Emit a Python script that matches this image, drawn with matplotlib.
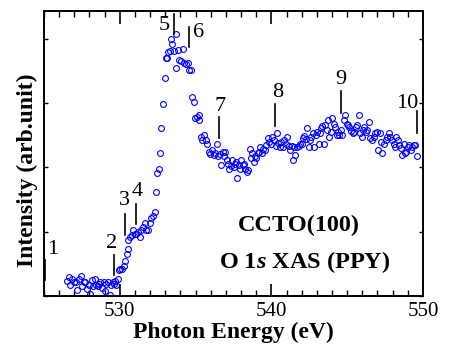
import matplotlib
matplotlib.use("Agg")
import matplotlib.pyplot as plt
from matplotlib.ticker import MultipleLocator

plt.rcParams['font.family'] = ['Liberation Serif', 'DejaVu Serif']
plt.rcParams['mathtext.fontset'] = 'custom'
plt.rcParams['mathtext.rm'] = 'Liberation Serif'
plt.rcParams['mathtext.it'] = 'Liberation Serif:italic:bold'
plt.rcParams['mathtext.bf'] = 'Liberation Serif:bold'

# O 1s XAS spectrum (photon energy in eV, intensity in arb. units)
energy = [
    526.54, 526.65, 526.74, 526.87, 526.96, 527.09, 527.18, 527.31, 527.44, 527.53,
    527.62, 527.73, 527.84, 527.95, 528.02, 528.15, 528.24, 528.35, 528.46, 528.55,
    528.63, 528.72, 528.83, 528.94, 529.03, 529.12, 529.23, 529.34, 529.43, 529.52,
    529.60, 529.69, 529.78, 529.85,
    529.93, 530.04, 530.13, 530.26, 530.35, 530.46, 530.57, 530.51, 530.66, 530.79,
    530.88, 530.99, 531.10, 531.21, 531.32, 531.43, 531.54, 531.65, 531.76, 531.87,
    531.98, 532.09, 532.20, 532.31, 532.38, 532.47, 532.56, 532.64, 532.73, 532.84,
    532.95, 533.02, 533.13, 533.19, 533.30, 533.35, 533.46, 533.57, 533.68, 533.74,
    533.85, 533.92, 534.03, 534.14, 534.23, 534.36, 534.47, 534.56, 534.69, 534.74,
    534.87, 534.96, 535.07, 535.20, 535.24, 535.35, 535.44, 535.55, 535.66, 535.77,
    535.86, 535.97, 536.10, 536.19, 536.28, 536.39, 536.50, 536.61, 536.70, 536.78,
    536.87, 536.96, 537.05, 537.14, 537.22, 537.31, 537.42, 537.51, 537.58, 537.67,
    537.75, 537.84, 537.93, 538.02, 538.11, 538.19, 538.28, 538.37, 538.48, 538.57,
    538.66, 538.74, 538.83, 538.92, 539.01, 539.10, 539.19, 539.27, 539.38, 539.47,
    539.56, 539.65, 539.76, 539.87, 539.96, 540.07, 540.18, 540.29, 540.37, 540.46,
    540.57, 540.66, 540.75, 540.84, 540.95, 541.04, 541.15, 541.23, 541.34, 541.41,
    541.50, 541.59, 541.70, 541.81, 541.92, 542.00, 542.09, 542.18, 542.29, 542.38,
    542.47, 542.56, 542.64, 542.73, 542.84, 542.93, 543.02, 543.11, 543.19, 543.28,
    543.37, 543.46, 543.57, 543.66, 543.74, 543.83, 543.92, 544.01, 544.10, 544.21,
    544.32, 544.41, 544.49, 544.58, 544.69, 544.76, 544.87, 544.98, 545.07, 545.15,
    545.26, 545.37, 545.46, 545.55, 545.64, 545.75, 545.86, 545.95, 546.04, 546.12,
    546.23, 546.32, 546.43, 546.52, 546.63, 546.74, 546.85, 546.96, 547.05, 547.14,
    547.22, 547.31, 547.42, 547.53, 547.62, 547.73, 547.84, 547.95, 548.06, 548.15,
    548.24, 548.33, 548.41, 548.52, 548.63, 548.72, 548.81, 548.90, 548.99, 549.10,
    549.19, 549.30, 549.38, 549.49, 549.60,
]
intensity = [
    0.23, 0.29, 0.17, 0.27, 0.21, 0.22, 0.09, 0.26, 0.31, 0.15,
    0.22, 0.21, 0.11, 0.17, 0.03, 0.25, 0.15, 0.26, 0.17, 0.15,
    0.19, 0.21, 0.13, 0.21, 0.07, 0.19, 0.21, 0.02, 0.17, 0.21,
    0.19, 0.24, 0.17, 0.26,
    0.41, 0.42, 0.42, 0.46, 0.54, 0.65, 0.73, 0.87, 0.91, 0.95,
    1.03, 0.97, 0.96, 1.00, 0.91, 1.03, 1.08, 1.13, 1.03, 1.03,
    1.14, 1.21, 1.24, 1.30, 1.61, 1.91, 1.97, 2.23, 2.62, 2.98,
    3.39, 3.70, 3.70, 3.80, 3.81, 3.99, 3.92, 3.81, 4.07, 3.54,
    3.82, 3.67, 3.65, 3.84, 3.63, 3.61, 3.62, 3.51, 3.51, 3.10,
    3.02, 2.76, 2.79, 2.81, 2.73, 2.48, 2.42, 2.50, 2.42, 2.37,
    2.24, 2.21, 2.27, 2.19, 2.22, 2.36, 2.17, 2.21, 2.04, 2.24,
    2.17, 2.24, 2.11, 2.06, 1.98, 2.02, 2.11, 2.01, 2.06, 2.09,
    1.84, 2.04, 1.98, 2.11, 2.04, 2.06, 1.98, 1.93, 1.96, 2.28,
    2.14, 2.22, 2.09, 2.17, 2.14, 2.22, 2.24, 2.32, 2.23, 2.28,
    2.27, 2.35, 2.45, 2.40, 2.37, 2.47, 2.42, 2.33, 2.54, 2.38,
    2.31, 2.40, 2.32, 2.42, 2.37, 2.48, 2.33, 2.27, 2.34, 2.12,
    2.32, 2.19, 2.32, 2.33, 2.36, 2.37, 2.45, 2.49, 2.44, 2.61,
    2.32, 2.42, 2.48, 2.53, 2.32, 2.50, 2.55, 2.37, 2.53, 2.61,
    2.64, 2.37, 2.66, 2.58, 2.74, 2.48, 2.55, 2.76, 2.68, 2.63,
    2.50, 2.55, 2.50, 2.58, 2.50, 2.74, 2.81, 2.68, 2.66, 2.63,
    2.56, 2.53, 2.55, 2.63, 2.66, 2.82, 2.53, 2.48, 2.58, 2.63,
    2.55, 2.58, 2.71, 2.45, 2.42, 2.48, 2.53, 2.55, 2.27, 2.54,
    2.40, 2.22, 2.37, 2.42, 2.48, 2.54, 2.48, 2.42, 2.37, 2.32,
    2.48, 2.42, 2.35, 2.30, 2.19, 2.37, 2.22, 2.24, 2.32, 2.35,
    2.27, 2.32, 2.35, 2.35, 2.17,
]

# peak markers: label, energy, line bottom, line top, text x, text y
peak_labels = ['1', '2', '3', '4', '5', '6', '7', '8', '9', '10']
peak_energy = [525.04, 529.60, 530.37, 531.10, 533.57, 534.58, 536.54, 540.26, 544.58, 549.60]
line_lo = [0.25, 0.33, 0.95, 1.12, 4.08, 3.87, 2.45, 2.64, 2.85, 2.53]
line_hi = [0.56, 0.64, 1.28, 1.43, 4.39, 4.19, 2.79, 2.98, 3.19, 2.87]
text_x = [525.6, 529.45, 530.3, 531.15, 532.95, 535.2, 536.6, 540.4, 544.58, 548.95]
text_y = [0.72, 0.82, 1.49, 1.62, 4.21, 4.09, 2.95, 3.17, 3.36, 2.99]

fig = plt.figure(figsize=(4.49, 3.47), dpi=100)
ax = fig.add_axes([0.098, 0.147, 0.844, 0.821])

ax.plot(energy, intensity, 'o', mfc='none', mec='#0000ff', ms=4.2, mew=0.8)

for lab, e, lo, hi, tx, ty in zip(peak_labels, peak_energy, line_lo, line_hi, text_x, text_y):
    ax.plot([e, e], [lo, hi], color='black', lw=1.2)
    ax.text(tx, ty, lab, ha='center', va='center', fontsize=16)

ax.text(541.8, 1.10, 'CCTO(100)', ha='center', va='center', fontsize=17.5, fontweight='bold')
ax.text(542.2, 0.53, r'O 1$\it{s}$ XAS (PPY)', ha='center', va='center', fontsize=17.5,
        fontweight='bold')

ax.set_xlim(525, 550)
ax.set_ylim(0, 4.43)
ax.xaxis.set_major_locator(MultipleLocator(10))
ax.xaxis.set_minor_locator(MultipleLocator(1))
ax.yaxis.set_major_locator(MultipleLocator(1))
ax.set_yticklabels([])
ax.tick_params(axis='x', which='major', direction='in', top=True, length=9, width=1.2,
               labelsize=15, pad=4)
ax.tick_params(axis='x', which='minor', direction='in', top=True, length=4.5, width=1.0)
ax.tick_params(axis='y', which='major', direction='in', right=True, length=3, width=1.0)
for s in ax.spines.values():
    s.set_linewidth(1.4)

ax.set_xlabel('Photon Energy (eV)', fontsize=17, fontweight='bold', labelpad=1)
fig.text(0.062, 0.51, 'Intensity (arb.unit)', rotation=90, ha='center', va='center',
         fontsize=17, fontweight='bold')

fig.savefig('out.png', dpi=100)
